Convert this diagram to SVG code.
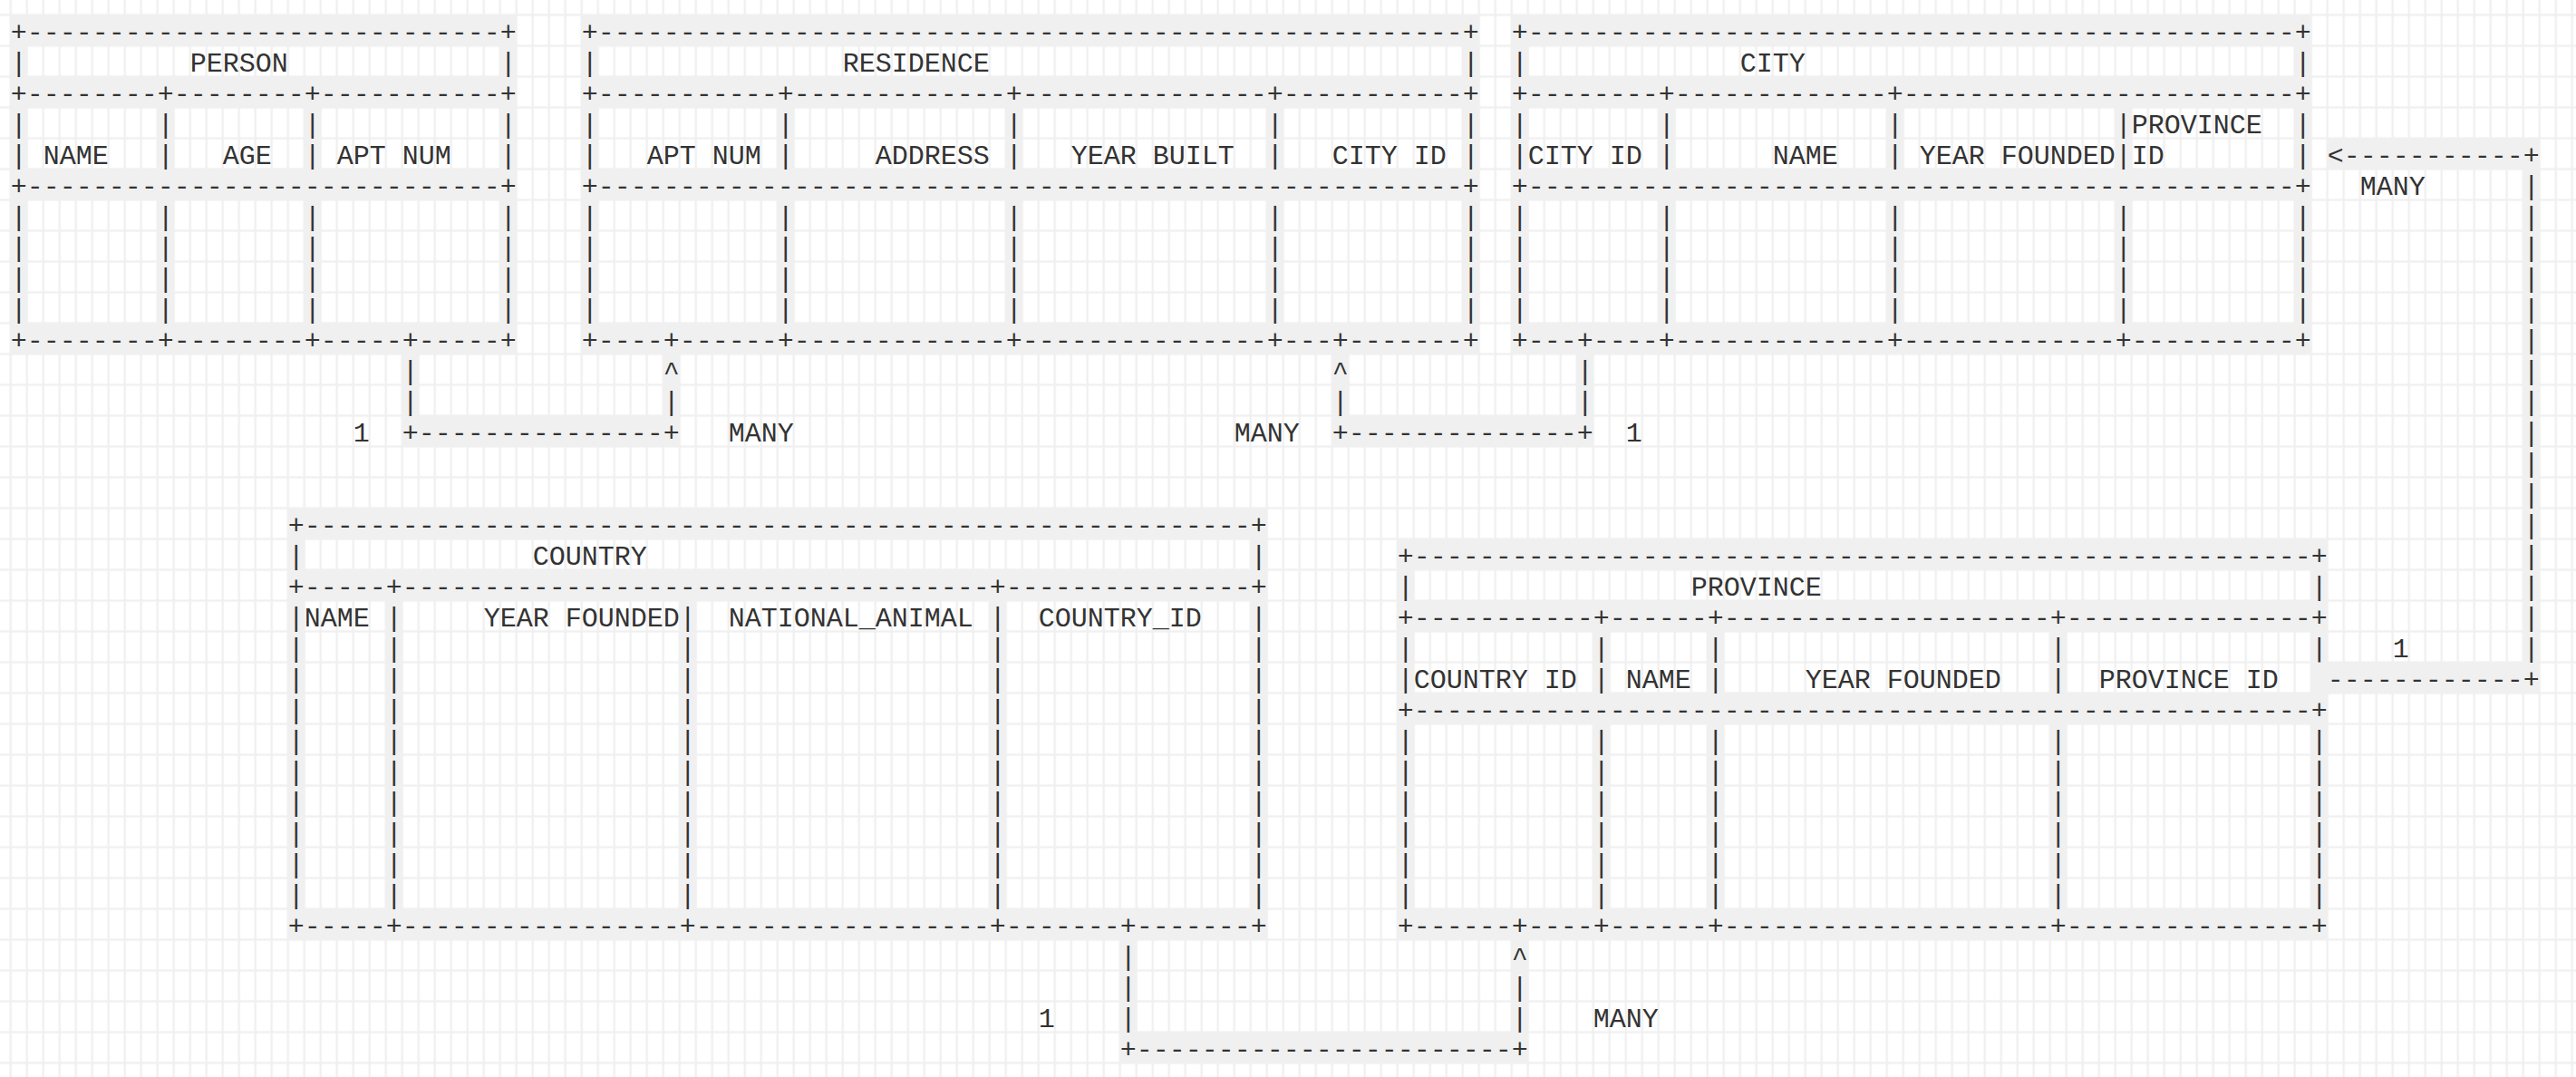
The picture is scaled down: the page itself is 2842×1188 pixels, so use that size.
<svg xmlns="http://www.w3.org/2000/svg" width="2842" height="1188" viewBox="0 0 2842 1188">
<style>
.t { font-family: "Liberation Mono", "DejaVu Sans Mono", monospace; font-size: 30px; fill: #333; }
.hl { fill: #f0f0f0; }
</style>
<defs>
<pattern id="grid" patternUnits="userSpaceOnUse" x="11.7" y="16.5" width="18" height="34">
<rect x="1.2" y="1.2" width="15.6" height="31.6" fill="#ffffff"/>
</pattern>
</defs>
<g id="background">
<rect x="0" y="0" width="2842" height="1188" fill="#f0f0f0"/>
<rect x="0" y="0" width="2842" height="1188" fill="url(#grid)"/>
</g>

<g id="person">
<rect class="hl" x="11.7" y="16.5" width="558" height="34"/>
<rect class="hl" x="11.7" y="84.5" width="558" height="34"/>
<rect class="hl" x="11.7" y="186.5" width="558" height="34"/>
<rect class="hl" x="11.7" y="356.5" width="558" height="34"/>
<rect class="hl" x="11.7" y="16.5" width="18" height="374"/>
<rect class="hl" x="551.7" y="16.5" width="18" height="374"/>
<rect class="hl" x="173.7" y="84.5" width="18" height="306"/>
<rect class="hl" x="335.7" y="84.5" width="18" height="306"/>
<text class="t" y="45.3"><tspan x="11.7">+-----------------------------</tspan><tspan x="551.7">+</tspan></text>
<text class="t" y="79.3"><tspan x="11.7">|</tspan><tspan x="209.7">PERSON</tspan><tspan x="551.7">|</tspan></text>
<text class="t" y="113.3"><tspan x="11.7">+--------</tspan><tspan x="173.7">+--------</tspan><tspan x="335.7">+-----------</tspan><tspan x="551.7">+</tspan></text>
<text class="t" x="11.7 173.7 335.7 551.7" y="147.3">||||</text>
<text class="t" y="181.3"><tspan x="11.7">|</tspan><tspan x="47.7">NAME</tspan><tspan x="173.7">|</tspan><tspan x="245.7">AGE</tspan><tspan x="335.7">|</tspan><tspan x="371.7">APT NUM</tspan><tspan x="551.7">|</tspan></text>
<text class="t" y="215.3"><tspan x="11.7">+-----------------------------</tspan><tspan x="551.7">+</tspan></text>
<text class="t" x="11.7 173.7 335.7 551.7" y="249.3">||||</text>
<text class="t" x="11.7 173.7 335.7 551.7" y="283.3">||||</text>
<text class="t" x="11.7 173.7 335.7 551.7" y="317.3">||||</text>
<text class="t" x="11.7 173.7 335.7 551.7" y="351.3">||||</text>
<text class="t" y="385.3"><tspan x="11.7">+--------</tspan><tspan x="173.7">+--------</tspan><tspan x="335.7">+-----</tspan><tspan x="443.7">+-----</tspan><tspan x="551.7">+</tspan></text>
</g>

<g id="residence">
<rect class="hl" x="641.7" y="16.5" width="990" height="34"/>
<rect class="hl" x="641.7" y="84.5" width="990" height="34"/>
<rect class="hl" x="641.7" y="186.5" width="990" height="34"/>
<rect class="hl" x="641.7" y="356.5" width="990" height="34"/>
<rect class="hl" x="641.7" y="16.5" width="18" height="374"/>
<rect class="hl" x="1613.7" y="16.5" width="18" height="374"/>
<rect class="hl" x="857.7" y="84.5" width="18" height="306"/>
<rect class="hl" x="1109.7" y="84.5" width="18" height="306"/>
<rect class="hl" x="1397.7" y="84.5" width="18" height="306"/>
<text class="t" y="45.3"><tspan x="641.7">+-----------------------------------------------------</tspan><tspan x="1613.7">+</tspan></text>
<text class="t" y="79.3"><tspan x="641.7">|</tspan><tspan x="929.7">RESIDENCE</tspan><tspan x="1613.7">|</tspan></text>
<text class="t" y="113.3"><tspan x="641.7">+-----------</tspan><tspan x="857.7">+-------------</tspan><tspan x="1109.7">+---------------</tspan><tspan x="1397.7">+-----------</tspan><tspan x="1613.7">+</tspan></text>
<text class="t" x="641.7 857.7 1109.7 1397.7 1613.7" y="147.3">|||||</text>
<text class="t" y="181.3"><tspan x="641.7">|</tspan><tspan x="713.7">APT NUM</tspan><tspan x="857.7">|</tspan><tspan x="965.7">ADDRESS</tspan><tspan x="1109.7">|</tspan><tspan x="1181.7">YEAR BUILT</tspan><tspan x="1397.7">|</tspan><tspan x="1469.7">CITY ID</tspan><tspan x="1613.7">|</tspan></text>
<text class="t" y="215.3"><tspan x="641.7">+-----------------------------------------------------</tspan><tspan x="1613.7">+</tspan></text>
<text class="t" x="641.7 857.7 1109.7 1397.7 1613.7" y="249.3">|||||</text>
<text class="t" x="641.7 857.7 1109.7 1397.7 1613.7" y="283.3">|||||</text>
<text class="t" x="641.7 857.7 1109.7 1397.7 1613.7" y="317.3">|||||</text>
<text class="t" x="641.7 857.7 1109.7 1397.7 1613.7" y="351.3">|||||</text>
<text class="t" y="385.3"><tspan x="641.7">+----</tspan><tspan x="731.7">+------</tspan><tspan x="857.7">+-------------</tspan><tspan x="1109.7">+---------------</tspan><tspan x="1397.7">+---</tspan><tspan x="1469.7">+-------</tspan><tspan x="1613.7">+</tspan></text>
</g>

<g id="city">
<rect class="hl" x="1667.7" y="16.5" width="882" height="34"/>
<rect class="hl" x="1667.7" y="84.5" width="882" height="34"/>
<rect class="hl" x="1667.7" y="186.5" width="882" height="34"/>
<rect class="hl" x="1667.7" y="356.5" width="882" height="34"/>
<rect class="hl" x="1667.7" y="16.5" width="18" height="374"/>
<rect class="hl" x="2531.7" y="16.5" width="18" height="374"/>
<rect class="hl" x="1829.7" y="84.5" width="18" height="306"/>
<rect class="hl" x="2081.7" y="84.5" width="18" height="306"/>
<rect class="hl" x="2333.7" y="84.5" width="18" height="306"/>
<text class="t" y="45.3"><tspan x="1667.7">+-----------------------------------------------</tspan><tspan x="2531.7">+</tspan></text>
<text class="t" y="79.3"><tspan x="1667.7">|</tspan><tspan x="1919.7">CITY</tspan><tspan x="2531.7">|</tspan></text>
<text class="t" y="113.3"><tspan x="1667.7">+--------</tspan><tspan x="1829.7">+-------------</tspan><tspan x="2081.7">+------------------------</tspan><tspan x="2531.7">+</tspan></text>
<text class="t" y="147.3"><tspan x="1667.7">|</tspan><tspan x="1829.7">|</tspan><tspan x="2081.7">|</tspan><tspan x="2333.7">|</tspan><tspan x="2351.7">PROVINCE</tspan><tspan x="2531.7">|</tspan></text>
<text class="t" y="181.3"><tspan x="1667.7">|</tspan><tspan x="1685.7">CITY ID</tspan><tspan x="1829.7">|</tspan><tspan x="1955.7">NAME</tspan><tspan x="2081.7">|</tspan><tspan x="2117.7">YEAR FOUNDED</tspan><tspan x="2333.7">|</tspan><tspan x="2351.7">ID</tspan><tspan x="2531.7">|</tspan></text>
<text class="t" y="215.3"><tspan x="1667.7">+-----------------------------------------------</tspan><tspan x="2531.7">+</tspan></text>
<text class="t" x="1667.7 1829.7 2081.7 2333.7 2531.7" y="249.3">|||||</text>
<text class="t" x="1667.7 1829.7 2081.7 2333.7 2531.7" y="283.3">|||||</text>
<text class="t" x="1667.7 1829.7 2081.7 2333.7 2531.7" y="317.3">|||||</text>
<text class="t" x="1667.7 1829.7 2081.7 2333.7 2531.7" y="351.3">|||||</text>
<text class="t" y="385.3"><tspan x="1667.7">+---</tspan><tspan x="1739.7">+----</tspan><tspan x="1829.7">+-------------</tspan><tspan x="2081.7">+-------------</tspan><tspan x="2333.7">+----------</tspan><tspan x="2531.7">+</tspan></text>
</g>

<g id="country">
<rect class="hl" x="317.7" y="560.5" width="1080" height="34"/>
<rect class="hl" x="317.7" y="628.5" width="1080" height="34"/>
<rect class="hl" x="317.7" y="1002.5" width="1080" height="34"/>
<rect class="hl" x="317.7" y="560.5" width="18" height="476"/>
<rect class="hl" x="1379.7" y="560.5" width="18" height="476"/>
<rect class="hl" x="425.7" y="628.5" width="18" height="408"/>
<rect class="hl" x="1091.7" y="628.5" width="18" height="408"/>
<rect class="hl" x="749.7" y="662.5" width="18" height="374"/>
<text class="t" y="589.3"><tspan x="317.7">+----------------------------------------------------------</tspan><tspan x="1379.7">+</tspan></text>
<text class="t" y="623.3"><tspan x="317.7">|</tspan><tspan x="587.7">COUNTRY</tspan><tspan x="1379.7">|</tspan></text>
<text class="t" y="657.3"><tspan x="317.7">+-----</tspan><tspan x="425.7">+------------------------------------</tspan><tspan x="1091.7">+---------------</tspan><tspan x="1379.7">+</tspan></text>
<text class="t" y="691.3"><tspan x="317.7">|</tspan><tspan x="335.7">NAME</tspan><tspan x="425.7">|</tspan><tspan x="533.7">YEAR FOUNDED</tspan><tspan x="749.7">|</tspan><tspan x="803.7">NATIONAL_ANIMAL</tspan><tspan x="1091.7">|</tspan><tspan x="1145.7">COUNTRY_ID</tspan><tspan x="1379.7">|</tspan></text>
<text class="t" x="317.7 425.7 749.7 1091.7 1379.7" y="725.3">|||||</text>
<text class="t" x="317.7 425.7 749.7 1091.7 1379.7" y="759.3">|||||</text>
<text class="t" x="317.7 425.7 749.7 1091.7 1379.7" y="793.3">|||||</text>
<text class="t" x="317.7 425.7 749.7 1091.7 1379.7" y="827.3">|||||</text>
<text class="t" x="317.7 425.7 749.7 1091.7 1379.7" y="861.3">|||||</text>
<text class="t" x="317.7 425.7 749.7 1091.7 1379.7" y="895.3">|||||</text>
<text class="t" x="317.7 425.7 749.7 1091.7 1379.7" y="929.3">|||||</text>
<text class="t" x="317.7 425.7 749.7 1091.7 1379.7" y="963.3">|||||</text>
<text class="t" x="317.7 425.7 749.7 1091.7 1379.7" y="997.3">|||||</text>
<text class="t" y="1031.3"><tspan x="317.7">+-----</tspan><tspan x="425.7">+-----------------</tspan><tspan x="749.7">+------------------</tspan><tspan x="1091.7">+-------</tspan><tspan x="1235.7">+-------</tspan><tspan x="1379.7">+</tspan></text>
</g>

<g id="province">
<rect class="hl" x="1541.7" y="594.5" width="1026" height="34"/>
<rect class="hl" x="1541.7" y="662.5" width="1026" height="34"/>
<rect class="hl" x="1541.7" y="764.5" width="1026" height="34"/>
<rect class="hl" x="1541.7" y="1002.5" width="1026" height="34"/>
<rect class="hl" x="1541.7" y="594.5" width="18" height="442"/>
<rect class="hl" x="2549.7" y="594.5" width="18" height="442"/>
<rect class="hl" x="1757.7" y="662.5" width="18" height="374"/>
<rect class="hl" x="1883.7" y="662.5" width="18" height="374"/>
<rect class="hl" x="2261.7" y="662.5" width="18" height="374"/>
<text class="t" y="623.3"><tspan x="1541.7">+-------------------------------------------------------</tspan><tspan x="2549.7">+</tspan></text>
<text class="t" y="657.3"><tspan x="1541.7">|</tspan><tspan x="1865.7">PROVINCE</tspan><tspan x="2549.7">|</tspan></text>
<text class="t" y="691.3"><tspan x="1541.7">+-----------</tspan><tspan x="1757.7">+------</tspan><tspan x="1883.7">+--------------------</tspan><tspan x="2261.7">+---------------</tspan><tspan x="2549.7">+</tspan></text>
<text class="t" x="1541.7 1757.7 1883.7 2261.7 2549.7" y="725.3">|||||</text>
<text class="t" y="759.3"><tspan x="1541.7">|</tspan><tspan x="1559.7">COUNTRY ID</tspan><tspan x="1757.7">|</tspan><tspan x="1793.7">NAME</tspan><tspan x="1883.7">|</tspan><tspan x="1991.7">YEAR FOUNDED</tspan><tspan x="2261.7">|</tspan><tspan x="2315.7">PROVINCE ID</tspan><tspan x="2549.7">+</tspan></text>
<text class="t" y="793.3"><tspan x="1541.7">+-------------------------------------------------------</tspan><tspan x="2549.7">+</tspan></text>
<text class="t" x="1541.7 1757.7 1883.7 2261.7 2549.7" y="827.3">|||||</text>
<text class="t" x="1541.7 1757.7 1883.7 2261.7 2549.7" y="861.3">|||||</text>
<text class="t" x="1541.7 1757.7 1883.7 2261.7 2549.7" y="895.3">|||||</text>
<text class="t" x="1541.7 1757.7 1883.7 2261.7 2549.7" y="929.3">|||||</text>
<text class="t" x="1541.7 1757.7 1883.7 2261.7 2549.7" y="963.3">|||||</text>
<text class="t" x="1541.7 1757.7 1883.7 2261.7 2549.7" y="997.3">|||||</text>
<text class="t" y="1031.3"><tspan x="1541.7">+------</tspan><tspan x="1667.7">+----</tspan><tspan x="1757.7">+------</tspan><tspan x="1883.7">+--------------------</tspan><tspan x="2261.7">+---------------</tspan><tspan x="2549.7">+</tspan></text>
</g>

<g id="connectors">
<rect class="hl" x="443.7" y="390.5" width="18" height="102"/>
<rect class="hl" x="443.7" y="458.5" width="306" height="34"/>
<rect class="hl" x="731.7" y="390.5" width="18" height="102"/>
<rect class="hl" x="1469.7" y="390.5" width="18" height="102"/>
<rect class="hl" x="1469.7" y="458.5" width="288" height="34"/>
<rect class="hl" x="1739.7" y="390.5" width="18" height="102"/>
<rect class="hl" x="2567.7" y="152.5" width="234" height="34"/>
<rect class="hl" x="2783.7" y="152.5" width="18" height="612"/>
<rect class="hl" x="2549.7" y="730.5" width="252" height="34"/>
<rect class="hl" x="1235.7" y="1036.5" width="18" height="136"/>
<rect class="hl" x="1235.7" y="1138.5" width="450" height="34"/>
<rect class="hl" x="1667.7" y="1036.5" width="18" height="136"/>

<g id="person-residence">
<text class="t" x="443.7 443.7" y="419.3 453.3">||</text>
<text class="t" y="487.3"><tspan x="443.7">+---------------</tspan><tspan x="731.7">+</tspan></text>
<text class="t" x="731.7 731.7" y="419.3 453.3">^|</text>
<text class="t" x="389.7" y="487.3">1</text>
<text class="t" x="803.7" y="487.3">MANY</text>
</g>

<g id="city-residence">
<text class="t" x="1469.7 1469.7" y="419.3 453.3">^|</text>
<text class="t" y="487.3"><tspan x="1469.7">+--------------</tspan><tspan x="1739.7">+</tspan></text>
<text class="t" x="1739.7 1739.7" y="419.3 453.3">||</text>
<text class="t" x="1361.7" y="487.3">MANY</text>
<text class="t" x="1793.7" y="487.3">1</text>
</g>

<g id="province-city">
<text class="t" y="181.3"><tspan x="2567.7">&lt;-----------</tspan><tspan x="2783.7">+</tspan></text>
<text class="t" x="2783.7 2783.7 2783.7 2783.7 2783.7 2783.7 2783.7 2783.7 2783.7 2783.7 2783.7 2783.7 2783.7 2783.7 2783.7 2783.7" y="215.3 249.3 283.3 317.3 351.3 385.3 419.3 453.3 487.3 521.3 555.3 589.3 623.3 657.3 691.3 725.3">||||||||||||||||</text>
<text class="t" y="759.3"><tspan x="2567.7">------------</tspan><tspan x="2783.7">+</tspan></text>
<text class="t" x="2603.7" y="215.3">MANY</text>
<text class="t" x="2639.7" y="725.3">1</text>
</g>

<g id="country-province">
<text class="t" x="1235.7 1235.7 1235.7" y="1065.3 1099.3 1133.3">|||</text>
<text class="t" y="1167.3"><tspan x="1235.7">+-----------------------</tspan><tspan x="1667.7">+</tspan></text>
<text class="t" x="1667.7 1667.7 1667.7" y="1065.3 1099.3 1133.3">^||</text>
<text class="t" x="1145.7" y="1133.3">1</text>
<text class="t" x="1757.7" y="1133.3">MANY</text>
</g>
</g>
</svg>
